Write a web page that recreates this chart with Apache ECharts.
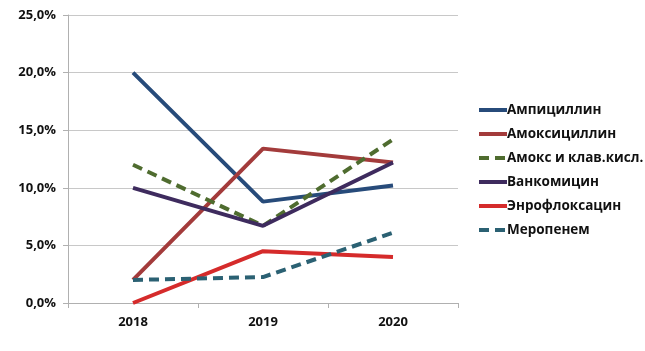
<!DOCTYPE html>
<html>
<head>
<meta charset="utf-8">
<script src="https://cdn.jsdelivr.net/npm/echarts@6/dist/echarts.min.js"></script>
<style>
  html, body { margin: 0; padding: 0; background: #fff; }
  #chart { width: 645px; height: 351px; }
</style>
</head>
<body>
<div id="chart"></div>
<script>
// годы
const years = ['2018', '2019', '2020']

// доли резистентности, %
const ampicillin = [20.0, 8.8, 10.2]
const amoxicillin = [2.0, 13.4, 12.2]
const amoxClav = [12.0, 6.7, 14.2]
const vancomycin = [10.0, 6.7, 12.2]
const enrofloxacin = [0.0, 4.5, 4.0]
const meropenem = [2.0, 2.25, 6.1]

const names = ['Ампициллин', 'Амоксициллин', 'Амокс и клав.кисл.', 'Ванкомицин', 'Энрофлоксацин', 'Меропенем']
const colors = ['#274b7a', '#a33b3b', '#4f6c2f', '#3e2b5e', '#d52b2b', '#2b6173']
const dashed = [false, false, true, false, false, true]
const values = [ampicillin, amoxicillin, amoxClav, vancomycin, enrofloxacin, meropenem]

const chart = echarts.init(document.getElementById('chart'))

const fontFamily = '"Open Sans", "Noto Sans", sans-serif'

const series = names.map((name, i) => ({
  name: name,
  type: 'line',
  data: values[i],
  symbol: 'none',
  lineStyle: {
    width: 4,
    color: colors[i],
    type: dashed[i] ? [10, 6] : 'solid'
  },
  itemStyle: { color: colors[i] }
}))

chart.setOption({
  animation: false,
  grid: {
    left: 68,
    right: 187,
    top: 15,
    bottom: 48
  },
  legend: {
    orient: 'vertical',
    left: 472,
    top: 98,
    itemWidth: 28,
    itemHeight: 10,
    itemGap: 10,
    data: names,
    itemStyle: { opacity: 0 },
    lineStyle: { width: 4 },
    textStyle: {
      fontFamily: fontFamily,
      fontWeight: 'bold',
      fontSize: 13.5,
      color: '#111',
      padding: [0, 0, 0, -5]
    }
  },
  xAxis: {
    type: 'category',
    data: years,
    boundaryGap: true,
    axisLine: { lineStyle: { color: '#b0b0b0', width: 1 } },
    axisTick: { show: true, length: 5, lineStyle: { color: '#b0b0b0' } },
    axisLabel: {
      margin: 13,
      fontFamily: fontFamily,
      fontWeight: 'bold',
      fontSize: 13,
      color: '#111'
    },
    splitLine: { show: false }
  },
  yAxis: {
    type: 'value',
    min: 0,
    max: 25,
    interval: 5,
    axisLine: { show: true, lineStyle: { color: '#b0b0b0', width: 1 } },
    axisTick: { show: true, length: 5, inside: false, lineStyle: { color: '#b0b0b0' } },
    splitLine: { lineStyle: { color: '#c8c8c8', width: 1 } },
    axisLabel: {
      margin: 12,
      fontFamily: fontFamily,
      fontWeight: 'bold',
      fontSize: 13,
      color: '#111',
      formatter: v => v.toFixed(1).replace('.', ',') + '%'
    }
  },
  series: series
})
</script>
</body>
</html>
